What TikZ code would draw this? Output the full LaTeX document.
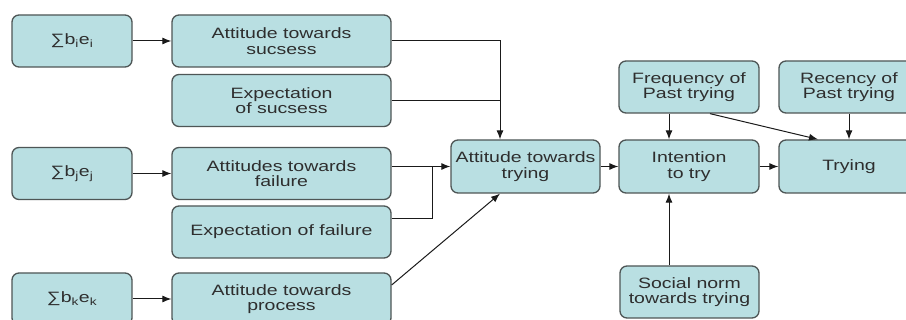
\documentclass[tikz,border=0pt]{standalone}
\usepackage{fontspec}
\setmainfont{Liberation Sans}[FakeStretch=1.3]
\usetikzlibrary{arrows.meta}
\definecolor{boxfill}{HTML}{B9DFE2}
\definecolor{boxline}{HTML}{4E5656}
\definecolor{wire}{HTML}{1A1A1A}
\tikzset{
  blk/.style={draw=boxline, line width=1.3pt, fill=boxfill, rounded corners=7pt,
    align=center, inner sep=0pt, text=black!82,
    font=\fontsize{15}{15.5}\selectfont},
  wide/.style={blk, minimum width=219pt, minimum height=52pt},
  sumbox/.style={blk, minimum width=120pt, minimum height=52pt},
  midbox/.style={blk, minimum width=140pt, minimum height=52pt},
  link/.style={draw=wire, line width=1pt},
  arr/.style={link, -{Latex[length=9pt,width=7pt]}}
}
\begin{document}
\begin{tikzpicture}[x=1pt,y=-1pt]
\useasboundingbox (0,0) rectangle (906,320);
\fill[white] (0,0) rectangle (906,320);
\clip (0,0) rectangle (906,320);

% left column: summed beliefs
\node[sumbox] (sA) at (72,41)    {∑b\textsubscript{i}e\textsubscript{i}};
\node[sumbox] (sB) at (72,173.5) {∑b\textsubscript{j}e\textsubscript{j}};
\node[sumbox] (sC) at (72,299)   {∑b\textsubscript{k}e\textsubscript{k}};

% second column: attitudes and expectations
\node[wide] (aS) at (281.5,41)    {Attitude towards\\sucsess};
\node[wide] (eS) at (281.5,100.5) {Expectation\\of sucsess};
\node[wide] (aF) at (281.5,173.5) {Attitudes towards\\failure};
\node[wide] (eF) at (281.5,232)   {Expectation of failure};
\node[wide] (aP) at (281.5,299)   {Attitude towards\\process};

% main chain
\node[blk, minimum width=149pt, minimum height=53pt] (aT) at (525.5,166.5) {Attitude towards\\trying};
\node[midbox, minimum height=53pt] (iT) at (689,166.5) {Intention\\to try};
\node[midbox, minimum height=53pt] (tr) at (849,166.5) {Trying};

% past behaviour and norms
\node[midbox] (fP) at (689,87)    {Frequency of\\Past trying};
\node[midbox] (rP) at (849,87)    {Recency of\\Past trying};
\node[midbox, minimum width=139pt] (sN) at (689.5,292) {Social norm\\towards trying};

% junction columns
\coordinate (jx) at (500,0);
\coordinate (jf) at (432,0);
\coordinate (kx) at (669,0);

% beliefs to attitudes
\draw[arr] (sA.east) -- (aS.west);
\draw[arr] (sB.east) -- (aF.west);
\draw[arr] (sC.east) -- (aP.west);

% success branch
\draw[arr] (aS.east) -| (jx |- aT.north);
\draw[link] (eS.east) -- (jx |- eS.east);

% failure branch
\draw[arr] (aF.east |- aT.west) -- (aT.west);
\draw[link] ([yshift=13pt]eF.east) -| (jf |- aT.west);

% process branch
\draw[arr] ([yshift=14pt]aP.east) -- (jx |- aT.south);

% chain
\draw[arr] (aT.east) -- (iT.west);
\draw[arr] (iT.east) -- (tr.west);

% past behaviour
\draw[arr] (kx |- fP.south) -- (kx |- iT.north);
\draw[arr] ([xshift=21pt]fP.south) -- ([xshift=-31pt]tr.north);
\draw[arr] (rP.south) -- (tr.north);

% social norm
\draw[arr] (kx |- sN.north) -- (kx |- iT.south);
\end{tikzpicture}
\end{document}
